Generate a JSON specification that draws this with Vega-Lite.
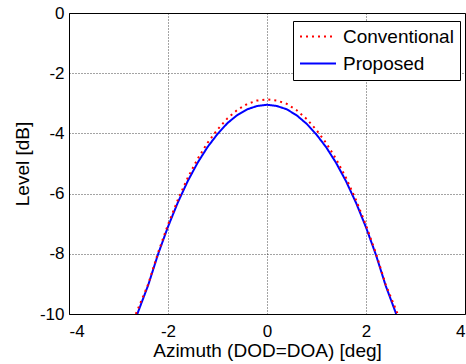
{
  "$schema": "https://vega.github.io/schema/vega-lite/v6.json",
  "autosize": "none",
  "width": 396,
  "height": 301,
  "padding": {"left": 69, "top": 13, "right": 1, "bottom": 50},
  "background": "white",
  "config": {
    "view": {"stroke": "black", "strokeWidth": 1},
    "font": "Liberation Sans",
    "axis": {
      "domain": false,
      "ticks": false,
      "grid": true,
      "gridColor": "black",
      "gridDash": [1, 2],
      "gridWidth": 0.8,
      "gridOpacity": 0.9,
      "labelFont": "Liberation Sans",
      "labelFontSize": 17,
      "labelColor": "black",
      "titleFont": "Liberation Sans",
      "titleFontSize": 19,
      "titleFontWeight": "normal",
      "titleColor": "black"
    }
  },
  "data": {
    "values": [
      {"x": -2.62, "y": -10, "s": "Proposed"},
      {"x": -2.4, "y": -9.04, "s": "Proposed"},
      {"x": -2.2, "y": -8.01, "s": "Proposed"},
      {"x": -2.0, "y": -7.1, "s": "Proposed"},
      {"x": -1.8, "y": -6.29, "s": "Proposed"},
      {"x": -1.6, "y": -5.58, "s": "Proposed"},
      {"x": -1.4, "y": -4.97, "s": "Proposed"},
      {"x": -1.2, "y": -4.45, "s": "Proposed"},
      {"x": -1.0, "y": -4.02, "s": "Proposed"},
      {"x": -0.8, "y": -3.66, "s": "Proposed"},
      {"x": -0.6, "y": -3.39, "s": "Proposed"},
      {"x": -0.4, "y": -3.2, "s": "Proposed"},
      {"x": -0.2, "y": -3.09, "s": "Proposed"},
      {"x": 0.0, "y": -3.05, "s": "Proposed"},
      {"x": 0.2, "y": -3.09, "s": "Proposed"},
      {"x": 0.4, "y": -3.2, "s": "Proposed"},
      {"x": 0.6, "y": -3.4, "s": "Proposed"},
      {"x": 0.8, "y": -3.68, "s": "Proposed"},
      {"x": 1.0, "y": -4.04, "s": "Proposed"},
      {"x": 1.2, "y": -4.47, "s": "Proposed"},
      {"x": 1.4, "y": -4.99, "s": "Proposed"},
      {"x": 1.6, "y": -5.6, "s": "Proposed"},
      {"x": 1.8, "y": -6.31, "s": "Proposed"},
      {"x": 2.0, "y": -7.12, "s": "Proposed"},
      {"x": 2.2, "y": -8.03, "s": "Proposed"},
      {"x": 2.4, "y": -9.07, "s": "Proposed"},
      {"x": 2.61, "y": -10, "s": "Proposed"},
      {"x": -2.65, "y": -10, "s": "Conventional"},
      {"x": -2.4, "y": -9.01, "s": "Conventional"},
      {"x": -2.2, "y": -7.96, "s": "Conventional"},
      {"x": -2.0, "y": -7.03, "s": "Conventional"},
      {"x": -1.8, "y": -6.2, "s": "Conventional"},
      {"x": -1.6, "y": -5.47, "s": "Conventional"},
      {"x": -1.4, "y": -4.84, "s": "Conventional"},
      {"x": -1.2, "y": -4.31, "s": "Conventional"},
      {"x": -1.0, "y": -3.87, "s": "Conventional"},
      {"x": -0.8, "y": -3.5, "s": "Conventional"},
      {"x": -0.6, "y": -3.22, "s": "Conventional"},
      {"x": -0.4, "y": -3.02, "s": "Conventional"},
      {"x": -0.2, "y": -2.91, "s": "Conventional"},
      {"x": 0.0, "y": -2.87, "s": "Conventional"},
      {"x": 0.2, "y": -2.91, "s": "Conventional"},
      {"x": 0.4, "y": -3.02, "s": "Conventional"},
      {"x": 0.6, "y": -3.23, "s": "Conventional"},
      {"x": 0.8, "y": -3.52, "s": "Conventional"},
      {"x": 1.0, "y": -3.89, "s": "Conventional"},
      {"x": 1.2, "y": -4.33, "s": "Conventional"},
      {"x": 1.4, "y": -4.86, "s": "Conventional"},
      {"x": 1.6, "y": -5.49, "s": "Conventional"},
      {"x": 1.8, "y": -6.22, "s": "Conventional"},
      {"x": 2.0, "y": -7.05, "s": "Conventional"},
      {"x": 2.2, "y": -7.98, "s": "Conventional"},
      {"x": 2.4, "y": -9.03, "s": "Conventional"},
      {"x": 2.64, "y": -10, "s": "Conventional"}
    ]
  },
  "mark": {"type": "line", "strokeWidth": 2, "clip": true},
  "encoding": {
    "x": {
      "field": "x", "type": "quantitative",
      "scale": {"domain": [-4, 4], "nice": false, "zero": false},
      "axis": {"values": [-4, -2, 0, 2, 4], "labelExpr": "'' + datum.value", "labelPadding": 9, "title": "Azimuth (DOD=DOA) [deg]", "titlePadding": 2}
    },
    "y": {
      "field": "y", "type": "quantitative",
      "scale": {"domain": [-10, 0], "nice": false, "zero": false},
      "axis": {"values": [-10, -8, -6, -4, -2, 0], "labelExpr": "'' + datum.value", "labelPadding": 5, "title": "Level [dB]", "titlePadding": 7}
    },
    "color": {
      "field": "s", "type": "nominal",
      "scale": {"domain": ["Conventional", "Proposed"], "range": ["#ff0000", "#0000ff"]},
      "legend": {
        "title": null,
        "orient": "none",
        "legendX": 224,
        "legendY": 8,
        "fillColor": "white",
        "strokeColor": "black",
        "padding": 6,
        "symbolType": "stroke",
        "symbolSize": 1296,
        "symbolStrokeWidth": 2,
        "clipHeight": 19,
        "labelFontSize": 19,
        "labelColor": "black",
        "labelFont": "Liberation Sans",
        "rowPadding": 7,
        "labelOffset": 6,
        "cornerRadius": 0
      }
    },
    "strokeDash": {
      "field": "s", "type": "nominal",
      "scale": {"domain": ["Conventional", "Proposed"], "range": [[2, 4], [1, 0]]},
      "legend": null
    }
  }
}
